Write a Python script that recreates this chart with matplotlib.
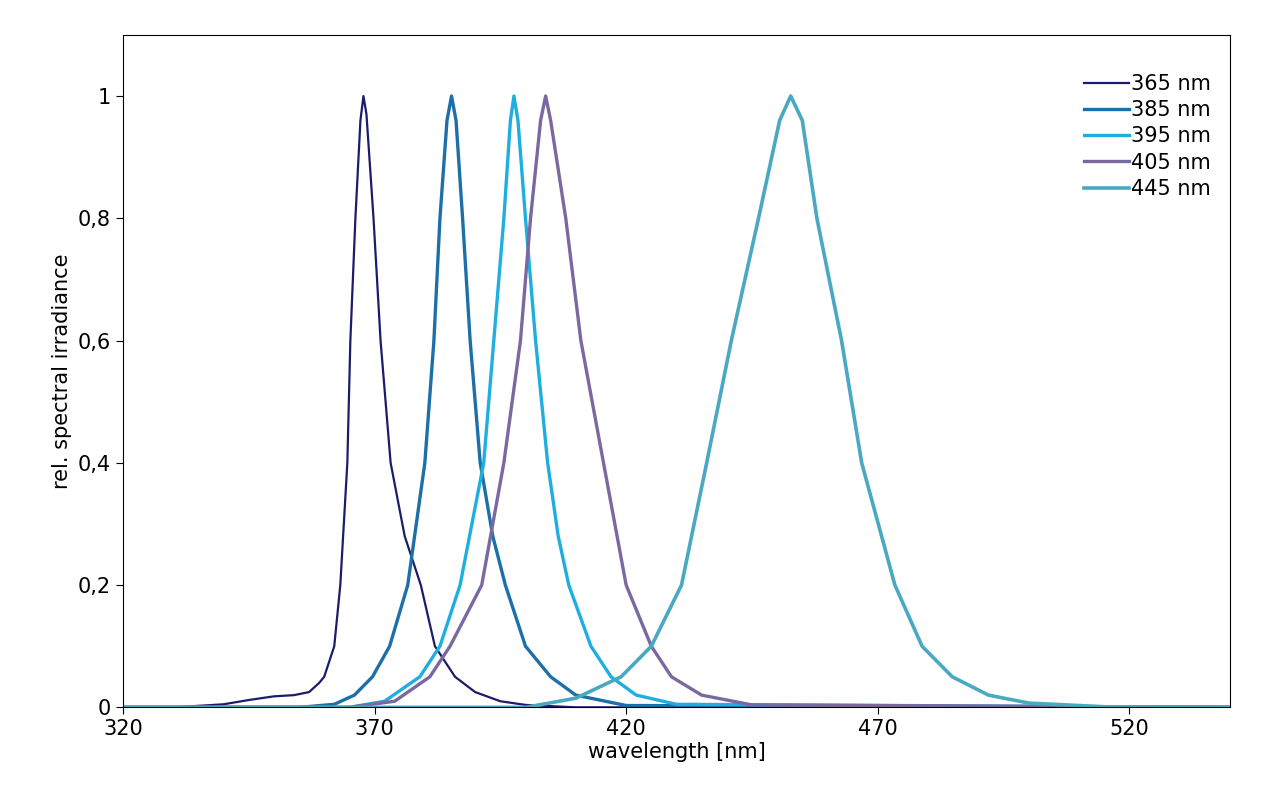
import matplotlib
matplotlib.use("Agg")
import matplotlib.pyplot as plt

# spectra (wavelength nm, relative irradiance)
wl_365 = [320, 330, 340, 345, 350, 354, 357, 359, 360, 362, 363.2, 364.6, 365.2, 366.2, 367.2, 367.8, 368.4, 369.8, 371.2, 373.2, 376, 379.2, 382, 386, 390, 395, 400, 410, 540]
ir_365 = [0, 0, 0.005, 0.012, 0.018, 0.02, 0.025, 0.04, 0.05, 0.1, 0.2, 0.4, 0.6, 0.8, 0.96, 1.0, 0.97, 0.8, 0.6, 0.4, 0.28, 0.2, 0.1, 0.05, 0.025, 0.01, 0.004, 0, 0]

wl_385 = [320, 355, 362, 366, 369.6, 373, 376.6, 380, 381.8, 383, 384.4, 385.3, 386.2, 387.5, 389, 391, 393.5, 396, 400, 405, 410, 420, 540]
ir_385 = [0, 0, 0.005, 0.02, 0.05, 0.1, 0.2, 0.4, 0.6, 0.8, 0.96, 1.0, 0.96, 0.8, 0.6, 0.4, 0.28, 0.2, 0.1, 0.05, 0.02, 0.003, 0]

wl_395 = [320, 365, 372, 379, 383, 387, 391.7, 393.7, 395.7, 397, 397.7, 398.5, 400, 402, 404.4, 406.5, 408.6, 413, 417, 422, 430, 540]
ir_395 = [0, 0, 0.01, 0.05, 0.1, 0.2, 0.4, 0.6, 0.8, 0.96, 1.0, 0.96, 0.8, 0.6, 0.4, 0.28, 0.2, 0.1, 0.05, 0.02, 0.005, 0]

wl_405 = [320, 365, 374, 381, 385, 391.3, 395.7, 399, 401, 403, 404, 405, 408, 411, 415.5, 420, 425, 429, 435, 445, 540]
ir_405 = [0, 0, 0.01, 0.05, 0.1, 0.2, 0.4, 0.6, 0.8, 0.96, 1.0, 0.96, 0.8, 0.6, 0.4, 0.2, 0.1, 0.05, 0.02, 0.004, 0]

wl_445 = [320, 400, 410, 419, 425, 431, 436, 440.9, 446.3, 450.5, 452.7, 455, 457.9, 462.8, 466.8, 473.4, 478.8, 484.8, 492, 500, 515, 540]
ir_445 = [0, 0, 0.015, 0.05, 0.1, 0.2, 0.4, 0.6, 0.8, 0.96, 1.0, 0.96, 0.8, 0.6, 0.4, 0.2, 0.1, 0.05, 0.02, 0.007, 0.001, 0]

labels = ["365 nm", "385 nm", "395 nm", "405 nm", "445 nm"]
colors = ["#1c1c6a", "#1d6fa8", "#1eaee0", "#7a68a0", "#4aa9c2"]
widths = [1.6, 2.4, 2.4, 2.4, 2.6]
series = [(wl_365, ir_365), (wl_385, ir_385), (wl_395, ir_395), (wl_405, ir_405), (wl_445, ir_445)]

fig = plt.figure(figsize=(12.8, 7.93), dpi=100)
ax = fig.add_axes([0.096, 0.108, 0.865, 0.848])

for (x, y), lab, c, w in zip(series, labels, colors, widths):
    ax.plot(x, y, color=c, lw=w, label=lab, solid_joinstyle="round")

ax.set_xlim(320, 540)
ax.set_ylim(0, 1.1)
ax.set_xticks([320, 370, 420, 470, 520])
ax.set_yticks([0, 0.2, 0.4, 0.6, 0.8, 1.0])
ax.set_yticklabels(["0", "0,2", "0,4", "0,6", "0,8", "1"])
ax.tick_params(labelsize=15, direction="out", length=5)
ax.set_xlabel("wavelength [nm]", fontsize=15, labelpad=2)
ax.set_ylabel("rel. spectral irradiance", fontsize=15)
ax.legend(loc="upper right", frameon=False, fontsize=15, handlelength=2.2,
          handletextpad=0.1, labelspacing=0.3, bbox_to_anchor=(1.0, 0.97))

fig.savefig("out.png", dpi=100)
